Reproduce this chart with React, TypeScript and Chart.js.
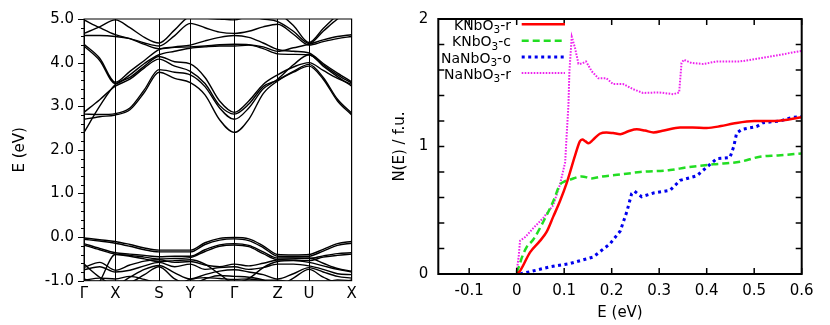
import React, { useEffect, useRef } from 'react';
import { Chart, registerables } from 'chart.js';

Chart.register(...registerables);
Chart.defaults.font.family = "'DejaVu Sans', sans-serif";
Chart.defaults.color = '#000';

// ---------- Left panel: band structure ----------
const kPath = [0, 0.157, 0.313, 0.459, 0.604, 0.75, 0.907, 1.063, 1.21, 1.356, 1.503, 1.648, 1.792, 1.937, 2.094, 2.25, 2.392, 2.535, 2.677];
const symPoints = [0, 0.313, 0.75, 1.063, 1.503, 1.937, 2.25, 2.677];
const symLabels = ['Γ', 'X', 'S', 'Y', 'Γ', 'Z', 'U', 'X'];
const bandYTicks = [-1, 0, 1, 2, 3, 4, 5];

const cbA = [2.40, 3.00, 3.50, 3.66, 3.92, 4.14, 4.02, 3.97, 3.66, 3.12, 2.86, 3.12, 3.50, 3.72, 3.90, 4.00, 3.82, 3.64, 3.50];
const cbB = [2.70, 2.76, 2.80, 2.92, 3.32, 3.78, 3.64, 3.54, 3.26, 2.69, 2.40, 2.70, 3.29, 3.58, 3.78, 3.92, 3.62, 3.12, 2.80];
const cbC = [2.82, 2.81, 2.83, 2.96, 3.38, 3.84, 3.78, 3.72, 3.45, 2.96, 2.70, 2.96, 3.40, 3.62, 3.95, 4.18, 3.92, 3.68, 3.46];
const cbD = [2.86, 3.15, 3.46, 3.62, 3.88, 4.08, 3.92, 3.80, 3.52, 3.02, 2.82, 3.05, 3.45, 3.60, 3.80, 3.96, 3.66, 3.16, 2.84];
const cbE = [4.38, 4.05, 3.52, 3.72, 3.98, 4.18, 4.26, 4.33, 4.36, 4.38, 4.38, 4.40, 4.32, 4.20, 4.19, 4.18, 3.95, 3.72, 3.53];
const cbF = [4.42, 4.10, 3.55, 3.80, 4.05, 4.30, 4.36, 4.40, 4.50, 4.58, 4.62, 4.58, 4.45, 4.30, 4.26, 4.22, 3.98, 3.76, 3.56];
const cbG = [4.62, 4.62, 4.60, 4.55, 4.45, 4.38, 4.62, 4.90, 4.80, 4.70, 4.67, 4.72, 4.82, 4.88, 4.65, 4.40, 4.48, 4.55, 4.60];
const cbH = [4.67, 4.82, 4.98, 4.80, 4.58, 4.45, 4.75, 5.05, 5.02, 5.00, 4.98, 5.05, 5.00, 4.94, 4.72, 4.44, 4.72, 5.00, 5.20];
const cbI = [4.98, 4.80, 4.64, 4.55, 4.42, 4.32, 4.35, 4.36, 4.38, 4.41, 4.42, 4.41, 4.36, 4.26, 4.34, 4.42, 4.52, 4.60, 4.64];
const cbJ = [5.40, 5.40, 5.40, 5.40, 5.40, 5.40, 5.40, 5.40, 5.40, 5.40, 5.40, 5.40, 5.30, 5.15, 4.85, 4.46, 4.78, 5.10, 5.40];

const vb1 = [-0.02, -0.06, -0.10, -0.17, -0.25, -0.30, -0.30, -0.30, -0.13, -0.03, -0.01, -0.04, -0.20, -0.40, -0.41, -0.40, -0.28, -0.15, -0.10];
const vb2 = [-0.05, -0.09, -0.14, -0.21, -0.29, -0.34, -0.34, -0.34, -0.17, -0.07, -0.04, -0.08, -0.24, -0.44, -0.45, -0.44, -0.32, -0.19, -0.14];
const vb3 = [-0.15, -0.26, -0.36, -0.39, -0.42, -0.45, -0.44, -0.44, -0.29, -0.18, -0.15, -0.19, -0.34, -0.48, -0.48, -0.49, -0.43, -0.38, -0.36];
const vb4 = [-0.18, -0.29, -0.39, -0.42, -0.46, -0.50, -0.49, -0.47, -0.33, -0.21, -0.18, -0.22, -0.38, -0.52, -0.53, -0.54, -0.46, -0.42, -0.39];
const vb5 = [-0.70, -0.58, -0.76, -0.64, -0.55, -0.52, -0.58, -0.56, -0.64, -0.68, -0.62, -0.66, -0.60, -0.52, -0.50, -0.48, -0.60, -0.72, -0.78];
const vb6 = [-0.75, -0.68, -0.80, -0.76, -0.66, -0.58, -0.68, -0.62, -0.74, -0.70, -0.68, -0.74, -0.70, -0.62, -0.62, -0.66, -0.74, -0.84, -0.86];
const vb7 = [-0.62, -0.92, -1.10, -0.92, -0.74, -0.65, -0.82, -0.96, -0.86, -0.78, -0.75, -0.80, -0.86, -0.96, -0.84, -0.70, -0.80, -0.90, -0.94];
const vb8 = [-0.96, -1.08, -1.15, -1.05, -0.86, -0.68, -0.96, -1.08, -0.96, -0.88, -0.90, -0.92, -0.98, -1.12, -0.94, -0.74, -0.92, -1.04, -0.98];
const vb9 = [-0.99, -0.94, -0.96, -0.90, -0.97, -1.06, -1.10, -0.97, -0.93, -0.95, -0.97, -0.96, -0.99, -0.99, -1.06, -1.12, -1.06, -0.98, -1.00];
const vb10 = [-1.50, -1.02, -0.40, -0.44, -0.50, -0.56, -0.54, -0.52, -0.62, -0.85, -1.05, -0.95, -0.70, -0.56, -0.54, -0.58, -0.66, -0.74, -0.80];

const bands = [cbA, cbB, cbC, cbD, cbE, cbF, cbG, cbH, cbI, cbJ, vb1, vb2, vb3, vb4, vb5, vb6, vb7, vb8, vb9, vb10];

// ---------- Right panel: DOS ----------
const legendLabels = ['KNbO3-r', 'KNbO3-c', 'NaNbO3-o', 'NaNbO3-r'];
const dosXTicks = [-0.1, 0, 0.1, 0.2, 0.3, 0.4, 0.5, 0.6];
const dosYLabels = [0, 1, 2];
const dosYMinor = [0, 0.2, 0.4, 0.6, 0.8, 1, 1.2, 1.4, 1.6, 1.8, 2];

const knbo3R = [[0, 0], [0.008, 0.03], [0.028, 0.17], [0.049, 0.26], [0.063, 0.33], [0.077, 0.45], [0.091, 0.57], [0.105, 0.71], [0.123, 0.93], [0.133, 1.04], [0.138, 1.055], [0.145, 1.04], [0.151, 1.025], [0.16, 1.05], [0.175, 1.10], [0.189, 1.11], [0.203, 1.105], [0.218, 1.097], [0.235, 1.12], [0.253, 1.135], [0.27, 1.125], [0.288, 1.11], [0.31, 1.125], [0.344, 1.15], [0.37, 1.15], [0.40, 1.145], [0.43, 1.16], [0.456, 1.18], [0.50, 1.20], [0.54, 1.20], [0.57, 1.21], [0.60, 1.23]];
const knbo3C = [[0, 0.01], [0.005, 0.06], [0.011, 0.13], [0.021, 0.21], [0.035, 0.27], [0.056, 0.41], [0.077, 0.57], [0.091, 0.70], [0.10, 0.725], [0.112, 0.74], [0.137, 0.765], [0.158, 0.75], [0.18, 0.765], [0.218, 0.78], [0.26, 0.80], [0.323, 0.815], [0.358, 0.836], [0.414, 0.86], [0.47, 0.88], [0.512, 0.92], [0.55, 0.93], [0.6, 0.946]];
const nanbo3O = [[0.007, 0], [0.028, 0.018], [0.07, 0.056], [0.112, 0.082], [0.161, 0.133], [0.196, 0.235], [0.218, 0.337], [0.232, 0.49], [0.242, 0.63], [0.248, 0.65], [0.263, 0.606], [0.288, 0.635], [0.323, 0.657], [0.344, 0.734], [0.379, 0.77], [0.407, 0.86], [0.421, 0.905], [0.449, 0.913], [0.457, 1.0], [0.463, 1.105], [0.474, 1.135], [0.505, 1.156], [0.519, 1.187], [0.554, 1.20], [0.582, 1.23], [0.6, 1.233]];
const nanbo3R = [[0, 0.02], [0.004, 0.13], [0.007, 0.26], [0.018, 0.29], [0.035, 0.36], [0.056, 0.44], [0.077, 0.54], [0.091, 0.70], [0.102, 0.875], [0.105, 1.08], [0.109, 1.33], [0.111, 1.59], [0.116, 1.86], [0.123, 1.77], [0.13, 1.65], [0.137, 1.65], [0.146, 1.667], [0.158, 1.59], [0.172, 1.535], [0.189, 1.535], [0.203, 1.49], [0.224, 1.49], [0.245, 1.45], [0.266, 1.42], [0.301, 1.424], [0.33, 1.41], [0.342, 1.424], [0.347, 1.655], [0.352, 1.68], [0.368, 1.655], [0.393, 1.647], [0.421, 1.667], [0.47, 1.667], [0.526, 1.70], [0.6, 1.75]];

const seriesColors = ['#ff0000', '#22dd22', '#0000ee', '#ee22ee'];

const toXY = (arr: number[][]) => arr.map(([x, y]) => ({ x, y }));

function line(ctx: CanvasRenderingContext2D, x1: number, y1: number, x2: number, y2: number) {
  ctx.beginPath();
  ctx.moveTo(x1, y1);
  ctx.lineTo(x2, y2);
  ctx.stroke();
}

const bandFramePlugin = {
  id: 'bandFrame',
  afterDraw(chart: any) {
    const { ctx, chartArea, scales } = chart;
    const { left, right, top, bottom } = chartArea;
    ctx.save();
    ctx.strokeStyle = '#000';
    ctx.lineWidth = 1;
    ctx.strokeRect(left, top, right - left, bottom - top);
    const y = scales.y;
    for (let i = 0; i <= 30; i++) {
      const v = -1 + i * 0.2;
      const py = Math.round(y.getPixelForValue(v)) + 0.5;
      const len = i % 5 === 0 ? 6 : 3;
      line(ctx, left, py, left - len, py);
    }
    ctx.restore();
  },
};

const dosFramePlugin = {
  id: 'dosFrame',
  afterDraw(chart: any) {
    const { ctx, chartArea, scales } = chart;
    const { left, right, top, bottom } = chartArea;
    const x = scales.x;
    const y = scales.y;
    ctx.save();
    ctx.strokeStyle = '#000';
    ctx.lineWidth = 1.5;
    for (const v of dosYMinor) {
      const py = y.getPixelForValue(v);
      line(ctx, left, py, left + 6, py);
      line(ctx, right, py, right - 6, py);
    }
    for (const v of dosXTicks) {
      const px = x.getPixelForValue(v);
      line(ctx, px, bottom, px, bottom - 6);
      line(ctx, px, top, px, top + 6);
    }
    ctx.lineWidth = 2;
    ctx.strokeRect(left, top, right - left, bottom - top);

    // legend
    const textRight = left + 72.7;
    const sampleX1 = left + 83.4;
    const sampleX2 = left + 126.7;
    const rowY = [24.3, 40.8, 57, 73];
    chart.data.datasets.forEach((ds: any, i: number) => {
      const cy = rowY[i];
      const parts = String(ds.label).split(/(\d+)/).filter((p) => p.length);
      const mainFont = "14px 'DejaVu Sans'";
      const subFont = "10.5px 'DejaVu Sans'";
      const widths = parts.map((p) => {
        ctx.font = /^\d+$/.test(p) ? subFont : mainFont;
        return ctx.measureText(p).width;
      });
      let xPos = textRight - widths.reduce((a, b) => a + b, 0);
      ctx.fillStyle = '#000';
      ctx.textBaseline = 'alphabetic';
      ctx.textAlign = 'left';
      parts.forEach((p, j) => {
        const isSub = /^\d+$/.test(p);
        ctx.font = isSub ? subFont : mainFont;
        ctx.fillText(p, xPos, cy + (isSub ? 9 : 5.5));
        xPos += widths[j];
      });
      ctx.strokeStyle = ds.borderColor;
      ctx.lineWidth = ds.borderWidth;
      ctx.setLineDash(ds.borderDash || []);
      line(ctx, sampleX1, cy, sampleX2, cy);
      ctx.setLineDash([]);
    });
    ctx.restore();
  },
};

function BandChart() {
  const ref = useRef<HTMLCanvasElement>(null);
  useEffect(() => {
    const chart = new Chart(ref.current as HTMLCanvasElement, {
      type: 'line',
      data: {
        datasets: bands.map((b, bi) => ({
          label: 'band' + bi,
          data: kPath.map((k, i) => ({ x: k, y: b[i] })),
          borderColor: '#000',
          borderWidth: 1.4,
          pointRadius: 0,
          cubicInterpolationMode: 'monotone',
          clip: 0,
        })),
      } as any,
      options: {
        animation: false,
        responsive: true,
        maintainAspectRatio: false,
        events: [],
        layout: { padding: { left: 0, top: 13.5, right: 68.3, bottom: 0 } },
        plugins: { legend: { display: false }, tooltip: { enabled: false } },
        scales: {
          x: {
            type: 'linear',
            min: 0,
            max: 2.677,
            afterBuildTicks: (s: any) => { s.ticks = symPoints.map((v) => ({ value: v })); },
            afterFit: (s: any) => { s.height = 44.3; },
            grid: { color: '#000', lineWidth: 1, drawTicks: false },
            border: { display: false },
            ticks: {
              autoSkip: false,
              maxRotation: 0,
              padding: 4,
              font: { size: 15 },
              color: '#000',
              callback: (_v: any, i: number) => symLabels[i],
            },
          },
          y: {
            type: 'linear',
            min: -1,
            max: 5,
            afterBuildTicks: (s: any) => { s.ticks = bandYTicks.map((v) => ({ value: v })); },
            afterFit: (s: any) => { s.width = 84; },
            grid: { display: false, drawTicks: false },
            border: { display: false },
            ticks: {
              padding: 10,
              font: { size: 15 },
              color: '#000',
              callback: (v: any) => Number(v).toFixed(1),
            },
            title: { display: true, text: 'E (eV)', font: { size: 15 }, color: '#000', padding: { top: 11, bottom: 0 } },
          },
        },
      } as any,
      plugins: [bandFramePlugin],
    });
    return () => chart.destroy();
  }, []);
  return (
    <div style={{ position: 'absolute', left: 0, top: 0, width: 420, height: 325 }}>
      <canvas ref={ref} />
    </div>
  );
}

function DosChart() {
  const ref = useRef<HTMLCanvasElement>(null);
  useEffect(() => {
    const series = [knbo3R, knbo3C, nanbo3O, nanbo3R];
    const dashes = [[], [7, 4], [3, 3.5], [1.6, 1.4]];
    const widths = [2.5, 2.5, 3, 2];
    const chart = new Chart(ref.current as HTMLCanvasElement, {
      type: 'line',
      data: {
        datasets: series.map((s, i) => ({
          label: legendLabels[i],
          data: toXY(s),
          borderColor: seriesColors[i],
          borderWidth: widths[i],
          borderDash: dashes[i],
          pointRadius: 0,
          cubicInterpolationMode: i < 2 ? 'monotone' : 'default',
          tension: 0,
          clip: 0,
        })),
      } as any,
      options: {
        animation: false,
        responsive: true,
        maintainAspectRatio: false,
        events: [],
        layout: { padding: { left: 0, top: 13.3, right: 28.3, bottom: 0 } },
        plugins: { legend: { display: false }, tooltip: { enabled: false } },
        scales: {
          x: {
            type: 'linear',
            min: -0.165,
            max: 0.6,
            afterBuildTicks: (s: any) => { s.ticks = dosXTicks.map((v) => ({ value: v })); },
            afterFit: (s: any) => { s.height = 51; },
            grid: { display: false, drawTicks: false },
            border: { display: false },
            ticks: {
              autoSkip: false,
              maxRotation: 0,
              padding: 8,
              font: { size: 15 },
              color: '#000',
              callback: (v: any) => (v === 0 ? '0' : Number(v).toFixed(1)),
            },
            title: { display: true, text: 'E (eV)', font: { size: 15 }, color: '#000', padding: { top: 0, bottom: 3 } },
          },
          y: {
            type: 'linear',
            min: 0,
            max: 2,
            afterBuildTicks: (s: any) => { s.ticks = dosYLabels.map((v) => ({ value: v })); },
            afterFit: (s: any) => { s.width = 68.3; },
            grid: { display: false, drawTicks: false },
            border: { display: false },
            ticks: { padding: 10, font: { size: 15 }, color: '#000', callback: (v: any) => String(v) },
            title: { display: true, text: 'N(E) / f.u.', font: { size: 15 }, color: '#000', padding: { top: 21, bottom: 0 } },
          },
        },
      } as any,
      plugins: [dosFramePlugin],
    });
    return () => chart.destroy();
  }, []);
  return (
    <div style={{ position: 'absolute', left: 370, top: 0, width: 460, height: 325 }}>
      <canvas ref={ref} />
    </div>
  );
}

export default function App() {
  return (
    <div style={{ position: 'fixed', left: 0, top: 0, width: 830, height: 325, background: '#fff', overflow: 'hidden' }}>
      <BandChart />
      <DosChart />
    </div>
  );
}
